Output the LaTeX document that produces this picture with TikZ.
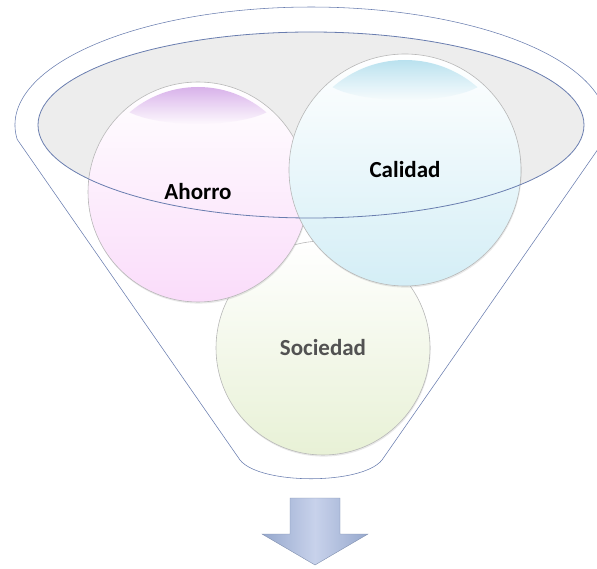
\documentclass[tikz,border=0pt]{standalone}
\usepackage{fontspec}
\setmainfont{Carlito}
\usetikzlibrary{shadows,fadings}
\definecolor{gris}{RGB}{237,237,237}
\definecolor{borde}{RGB}{105,125,175}
\definecolor{rosa}{RGB}{250,220,250}
\definecolor{lila}{RGB}{205,155,228}
\definecolor{celeste}{RGB}{212,238,246}
\definecolor{azulbrillo}{RGB}{172,220,236}
\definecolor{verde}{RGB}{232,241,214}
\definecolor{flechaosc}{RGB}{150,168,205}
\definecolor{flechaclara}{RGB}{200,210,235}
\tikzfading[name=haz, top color=transparent!0, bottom color=transparent!100]
\begin{document}
\begin{tikzpicture}[x=1pt, y=1pt,
  bola/.style={circle, draw=black!28, line width=0.6pt, minimum size=#1, inner sep=0pt,
    font=\fontsize{23}{23}\selectfont\bfseries,
    drop shadow={opacity=0.18, shadow xshift=0.6pt, shadow yshift=-1.6pt}},
  brillo/.style={fill=#1, draw=none, path fading=haz},
  flecha/.style={draw=flechaosc!85!black, line width=0.4pt, left color=flechaosc,
    right color=flechaosc, middle color=flechaclara}]
  \useasboundingbox (0,0) rectangle (597,568);
  \clip (0,0) rectangle (597,568);
  \fill[gris] (311,443) ellipse [x radius=273, y radius=93];
  \draw[borde, line width=0.55pt] (240,108) -- (17.2,428.6)
    arc[start angle=187, end angle=-7, x radius=296, y radius=118]
    -- (382,108) .. controls (362,83) and (260,83) .. cycle;
  \node[bola=214pt, top color=white, bottom color=verde, text=black!68] (s) at (323,220) {Sociedad};
  \node[bola=220pt, top color=white, bottom color=rosa] (a) at (198,376) {Ahorro};
  \begin{scope}
    \clip (a.center) circle (105);
    \fill[brillo=lila] (198,468) ellipse [x radius=80, y radius=24];
  \end{scope}
  \node[bola=232pt, top color=white, bottom color=celeste] (c) at (405,398) {Calidad};
  \begin{scope}
    \clip (c.center) circle (110);
    \fill[brillo=azulbrillo] (405,492) ellipse [x radius=82, y radius=24];
  \end{scope}
  \draw[borde, line width=0.8pt] (311,443) ellipse [x radius=273, y radius=93];
  \path[flecha] (290,70) -- (340,70) -- (340,34) -- (368,34) -- (315,3) -- (262,34) -- (290,34) -- cycle;
\end{tikzpicture}
\end{document}
